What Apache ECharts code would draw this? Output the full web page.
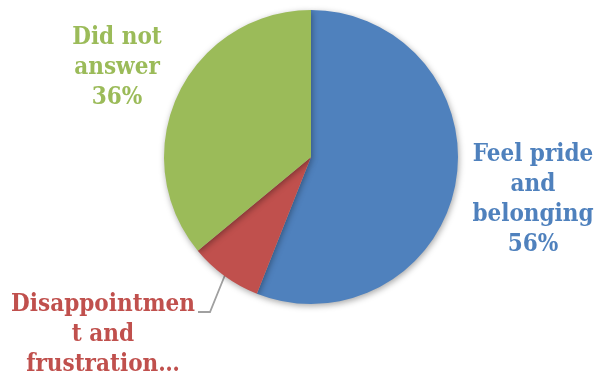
<!DOCTYPE html>
<html>
<head>
<meta charset="utf-8">
<style>html,body{margin:0;padding:0;background:#fff;}#c{width:597px;height:379px;}</style>
<script src="https://cdn.jsdelivr.net/npm/echarts@6/dist/echarts.min.js"></script>
</head>
<body>
<div id="c"></div>
<script>
var categories = ['Feel pride\nand\nbelonging', 'Disappointmen\nt and\nfrustration\u2026', 'Did not\nanswer'];
var values = [56, 8, 36];
var colors = ['#4F81BD', '#C0504D', '#9BBB59'];
var showPercent = [true, false, true];

var labelPos = [
  {x: 533, y: 200},
  {x: 103, y: 335, line: [[225, 275], [210, 312], [198, 312]]},
  {x: 117, y: 68}
];

var chart = echarts.init(document.getElementById('c'));
var data = categories.map(function (c, i) {
  return {
    name: c,
    value: values[i],
    itemStyle: {color: colors[i]},
    label: {color: colors[i], formatter: showPercent[i] ? '{b}\n{d}%' : '{b}'},
    labelLine: {show: !showPercent[i]}
  };
});
chart.setOption({
  animation: false,
  series: [{
    type: 'pie',
    center: [311, 157],
    radius: 147,
    startAngle: 90,
    clockwise: true,
    percentPrecision: 0,
    data: data,
    itemStyle: {
      borderWidth: 0,
      shadowBlur: 6,
      shadowColor: 'rgba(0,0,0,0.35)',
      shadowOffsetX: 1,
      shadowOffsetY: 2
    },
    label: {
      show: true,
      position: 'outside',
      fontFamily: 'DejaVu Serif Condensed, DejaVu Serif',
      fontWeight: 'bold',
      fontSize: 24,
      lineHeight: 30,
      align: 'center',
      overflow: 'none',
      width: 250
    },
    labelLine: {
      lineStyle: {color: '#A0A0A0', width: 1.8}
    },
    labelLayout: function (p) {
      var lp = labelPos[p.dataIndex];
      var r = {x: lp.x, y: lp.y, align: 'center', verticalAlign: 'middle'};
      if (lp.line) r.labelLinePoints = lp.line;
      return r;
    }
  }]
});
</script>
</body>
</html>
